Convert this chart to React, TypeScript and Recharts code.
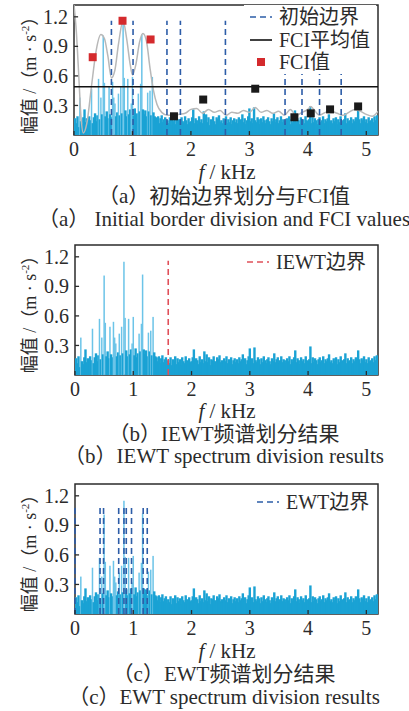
import React from "react";
import {
  ComposedChart,
  Bar,
  Cell,
  Line,
  Scatter,
  XAxis,
  YAxis,
  ReferenceLine,
  ReferenceArea,
} from "recharts";

// spectrum amplitude, one value every 0.02 kHz from 0 to 5.2 kHz
const amp = [
  0.10, 0.17, 0.12, 0.19, 0.08, 0.38, 0.14, 0.11, 0.18, 0.26,
  0.13, 0.17, 0.09, 0.19, 0.15, 0.47, 0.12, 0.18, 0.22, 0.14,
  0.20, 0.57, 0.16, 0.38, 0.21, 1.01, 0.53, 0.19, 0.24, 0.17,
  0.49, 0.21, 0.18, 0.54, 0.38, 0.32, 0.19, 0.23, 0.42, 0.20,
  0.49, 0.22, 1.15, 0.58, 0.25, 0.19, 0.57, 0.21, 0.26, 0.32,
  0.59, 0.20, 0.27, 0.18, 0.22, 0.42, 0.24, 0.52, 1.02, 0.26,
  0.21, 0.25, 0.19, 0.43, 0.24, 0.45, 0.20, 0.59, 0.23, 0.19,
  0.18, 0.14, 0.19, 0.12, 0.17, 0.20, 0.13, 0.16, 0.18, 0.11,
  0.15, 0.12, 0.18, 0.10, 0.16, 0.14, 0.19, 0.11, 0.17, 0.13,
  0.16, 0.10, 0.18, 0.14, 0.12, 0.19, 0.15, 0.11, 0.17, 0.13,
  0.14, 0.18, 0.26, 0.12, 0.17, 0.15, 0.11, 0.19, 0.13, 0.16,
  0.12, 0.24, 0.14, 0.21, 0.13, 0.18, 0.10, 0.16, 0.15, 0.19,
  0.14, 0.11, 0.18, 0.16, 0.20, 0.13, 0.15, 0.12, 0.17, 0.14,
  0.19, 0.12, 0.16, 0.13, 0.18, 0.11, 0.15, 0.17, 0.13, 0.16,
  0.12, 0.18, 0.14, 0.16, 0.21, 0.13, 0.17, 0.11, 0.15, 0.19,
  0.27, 0.14, 0.17, 0.12, 0.28, 0.15, 0.13, 0.18, 0.16, 0.11,
  0.17, 0.13, 0.19, 0.15, 0.12, 0.16, 0.18, 0.14, 0.11, 0.17,
  0.14, 0.22, 0.13, 0.16, 0.18, 0.12, 0.15, 0.19, 0.13, 0.16,
  0.15, 0.12, 0.17, 0.14, 0.19, 0.11, 0.16, 0.13, 0.18, 0.25,
  0.13, 0.17, 0.15, 0.11, 0.18, 0.14, 0.16, 0.12, 0.19, 0.15,
  0.14, 0.16, 0.29, 0.12, 0.18, 0.13, 0.17, 0.15, 0.11, 0.16,
  0.18, 0.13, 0.15, 0.19, 0.12, 0.16, 0.14, 0.17, 0.21, 0.13,
  0.15, 0.12, 0.17, 0.14, 0.18, 0.11, 0.16, 0.13, 0.19, 0.15,
  0.13, 0.16, 0.22, 0.12, 0.17, 0.14, 0.15, 0.18, 0.12, 0.16,
  0.14, 0.18, 0.13, 0.25, 0.16, 0.12, 0.17, 0.15, 0.19, 0.13,
  0.16, 0.12, 0.18, 0.14, 0.15, 0.17, 0.13, 0.19, 0.15, 0.20,
  0.16,
];
const spectrum = amp.map((a, i) => ({ f: (i * 2) / 100, a }));

// grey envelope in panel (a)
const envFreq = [
  0, 0.04, 0.08, 0.12, 0.16, 0.22, 0.3, 0.38, 0.46, 0.52, 0.58, 0.64, 0.7,
  0.76, 0.84, 0.9, 0.96, 1.0, 1.06, 1.12, 1.18, 1.24, 1.3, 1.36, 1.42, 1.5,
  1.6, 1.7, 1.8, 1.9, 2.0, 2.1, 2.2, 2.3, 2.4, 2.5, 2.6, 2.7, 2.8, 2.9, 3.0,
  3.1, 3.2, 3.3, 3.4, 3.5, 3.6, 3.7, 3.8, 3.9, 4.0, 4.05, 4.1, 4.2, 4.3, 4.4,
  4.5, 4.6, 4.7, 4.8, 4.9, 5.0, 5.1, 5.2,
];
const envAmp = [
  1.32, 1.05, 0.62, 0.18, 0.02, 0.12, 0.5, 0.86, 1.02, 0.98, 0.8, 0.58, 0.66,
  0.92, 1.16, 0.98, 0.72, 0.61, 0.72, 0.94, 1.03, 0.95, 0.68, 0.45, 0.31, 0.23,
  0.2, 0.2, 0.21, 0.22, 0.26, 0.27, 0.22, 0.26, 0.23, 0.25, 0.2, 0.23, 0.22,
  0.25, 0.23, 0.28, 0.23, 0.25, 0.22, 0.24, 0.2, 0.26, 0.2, 0.23, 0.26, 0.29,
  0.26, 0.2, 0.23, 0.24, 0.22, 0.2, 0.23, 0.26, 0.24, 0.21, 0.19, 0.24,
];
const envelope = envFreq.map((f, i) => ({ f, e: envAmp[i] }));

const fciFreq = [0.32, 0.83, 1.31, 1.71, 2.21, 3.1, 3.77, 4.05, 4.38, 4.86];
const fciVal = [0.79, 1.16, 0.97, 0.19, 0.36, 0.47, 0.18, 0.22, 0.26, 0.29];
const fciMean = 0.49;
const fci = fciFreq.map((f, i) => ({ f, v: fciVal[i] }));

const initBounds = [0.64, 1.01, 1.59, 1.82, 2.59, 3.61, 3.9, 4.2, 4.57];
const iewtBounds = [1.6];
const ewtBounds = [0, 0.43, 0.49, 0.75, 0.84, 0.88, 0.97, 1.17, 1.24];

const xTicks = [0, 1, 2, 3, 4, 5];
const yTicks = [0.3, 0.6, 0.9, 1.2];

const INK = "#2b2b2b";
const SPEC = "#1aa2d4";
const SPEC_LIGHT = "#6cc4e8";
const BLUE = "#2d5da8";
const RED = "#e0505a";
const SERIF = '"Liberation Serif", "Noto Sans CJK SC", serif';

const tickStyle = { fontSize: 20, fill: INK, fontFamily: SERIF };

// spectral line: a thin solid column centred on its frequency
function SpecBar(p: any) {
  const w = p.a > 0.3 ? 1.5 : 2.4;
  const cx = p.x + p.width / 2;
  return <rect x={cx - w / 2} y={p.y} width={w} height={Math.max(p.height, 0)} fill={p.fill} />;
}

function boundLines(bounds: number[], top: number, color: string) {
  return bounds.map((b) => (
    <ReferenceLine
      key={"b" + b}
      segment={[
        { x: b, y: 0 },
        { x: b, y: top },
      ]}
      stroke={color}
      strokeWidth={1.6}
      strokeDasharray="6 4"
    />
  ));
}

// short inward tick marks on the bottom and left edges
function innerTicks() {
  return [
    ...xTicks.map((t) => (
      <ReferenceLine
        key={"xt" + t}
        segment={[
          { x: t, y: 0 },
          { x: t, y: 0.04 },
        ]}
        stroke={INK}
        strokeWidth={1.3}
      />
    )),
    ...yTicks.map((t) => (
      <ReferenceLine
        key={"yt" + t}
        segment={[
          { x: 0, y: t },
          { x: 0.07, y: t },
        ]}
        stroke={INK}
        strokeWidth={1.3}
      />
    )),
  ];
}

function Panel({ top, left, extra }: { top: number; left: number; extra: React.ReactNode }) {
  return (
    <div style={{ position: "absolute", left: 0, top }}>
      <ComposedChart
        width={409}
        height={175}
        data={spectrum}
        margin={{ top: 5, right: 31, bottom: 10, left }}
      >
        <XAxis
          type="number"
          dataKey="f"
          domain={[0, 5.2]}
          ticks={xTicks}
          interval={0}
          allowDataOverflow
          height={30}
          axisLine={false}
          tickLine={false}
          tickSize={0}
          tickMargin={7}
          tick={tickStyle}
        />
        <YAxis
          type="number"
          domain={[0, 1.32]}
          ticks={yTicks}
          interval={0}
          allowDataOverflow
          width={74}
          axisLine={false}
          tickLine={false}
          tickSize={0}
          tickMargin={6}
          tick={tickStyle}
          tickFormatter={(v: number) => v.toFixed(1)}
        />
        <Bar dataKey="a" shape={SpecBar} isAnimationActive={false}>
          {spectrum.map((d, i) => (
            <Cell key={i} fill={d.a > 0.3 ? SPEC_LIGHT : SPEC} />
          ))}
        </Bar>
        {extra}
        {innerTicks()}
        <ReferenceArea
          x1={0}
          x2={5.2}
          y1={0}
          y2={1.32}
          fill="none"
          fillOpacity={0}
          stroke={INK}
          strokeWidth={1.5}
        />
      </ComposedChart>
    </div>
  );
}

function XTitle({ y }: { y: number }) {
  return (
    <div
      style={{
        position: "absolute",
        left: 227,
        top: y,
        transform: "translate(-50%, -50%)",
        fontSize: 21,
        lineHeight: "18px",
        whiteSpace: "nowrap",
        color: INK,
      }}
    >
      <i>f</i> / kHz
    </div>
  );
}

function YTitle({ y }: { y: number }) {
  return (
    <div
      style={{
        position: "absolute",
        left: 27,
        top: y,
        transform: "translate(-50%, -50%) rotate(-90deg)",
        fontSize: 18,
        lineHeight: "20px",
        whiteSpace: "nowrap",
        color: INK,
      }}
    >
      幅值 /（m · s<sup style={{ fontSize: 11 }}>-2</sup>）
    </div>
  );
}

function Caption({ y, text, size = 21 }: { y: number; text: string; size?: number }) {
  return (
    <div
      style={{
        position: "absolute",
        left: 224,
        top: y,
        transform: "translate(-50%, -50%)",
        fontSize: size,
        lineHeight: "21px",
        whiteSpace: "nowrap",
        color: INK,
      }}
    >
      {text}
    </div>
  );
}

function DashIcon({ color, dashed = true }: { color: string; dashed?: boolean }) {
  return (
    <svg width={22} height={4} style={{ display: "block" }}>
      <line
        x1={0}
        y1={2}
        x2={22}
        y2={2}
        stroke={color}
        strokeWidth={1.6}
        strokeDasharray={dashed ? "6 4" : undefined}
      />
    </svg>
  );
}

function LegendRow({ x, y, icon, label }: { x: number; y: number; icon: React.ReactNode; label: string }) {
  return (
    <div
      style={{
        position: "absolute",
        left: x,
        top: y,
        transform: "translateY(-50%)",
        display: "flex",
        alignItems: "center",
        fontSize: 20,
        lineHeight: "22px",
        whiteSpace: "nowrap",
        color: INK,
      }}
    >
      <div style={{ width: 22, display: "flex", justifyContent: "center", marginRight: 7 }}>{icon}</div>
      <span>{label}</span>
    </div>
  );
}

export default function App() {
  const panelA = [
    <Line
      key="env"
      data={envelope}
      dataKey="e"
      type="monotone"
      stroke="#b8b8b8"
      strokeWidth={1.5}
      dot={false}
      isAnimationActive={false}
    />,
    ...boundLines(initBounds, 1.16, BLUE),
    <ReferenceLine key="mean" y={fciMean} stroke="#111" strokeWidth={1.3} />,
    <Scatter key="fci" data={fci} dataKey="v" shape="square" isAnimationActive={false}>
      {fci.map((d, i) => (
        <Cell key={i} fill={d.v > fciMean ? "#d42a2d" : "#1a1a1a"} />
      ))}
    </Scatter>,
  ];

  return (
    <div
      style={{
        position: "absolute",
        left: 0,
        top: 0,
        width: 409,
        height: 711,
        background: "#fff",
        fontFamily: SERIF,
      }}
    >
      <Panel top={0} left={0} extra={panelA} />
      <Panel top={240} left={1} extra={boundLines(iewtBounds, 1.16, RED)} />
      <Panel top={479} left={1} extra={boundLines(ewtBounds, 1.1, BLUE)} />

      {/* legend (a) */}
      <div style={{ position: "absolute", left: 244, top: 5, width: 132, height: 69, background: "#fff" }} />
      <LegendRow x={250} y={17} icon={<DashIcon color={BLUE} />} label="初始边界" />
      <LegendRow x={250} y={40} icon={<DashIcon color="#111" dashed={false} />} label="FCI平均值" />
      <LegendRow
        x={250}
        y={62}
        icon={<div style={{ width: 8, height: 8, background: "#d42a2d" }} />}
        label="FCI值"
      />
      {/* legend (b) */}
      <LegendRow x={247} y={262} icon={<DashIcon color={RED} />} label="IEWT边界" />
      {/* legend (c) */}
      <LegendRow x={257} y={502} icon={<DashIcon color={BLUE} />} label="EWT边界" />

      <YTitle y={71} />
      <YTitle y={310} />
      <YTitle y={549} />
      <XTitle y={172} />
      <XTitle y={411} />
      <XTitle y={651} />

      <Caption y={196} text="（a）初始边界划分与FCI值" />
      <Caption y={219} text="（a） Initial border division and FCI values" />
      <Caption y={434} text="（b）IEWT频谱划分结果" />
      <Caption y={456} text="（b）IEWT spectrum division results" />
      <Caption y={674} text="（c）EWT频谱划分结果" />
      <Caption y={697} text="（c）EWT spectrum division results" />
    </div>
  );
}
